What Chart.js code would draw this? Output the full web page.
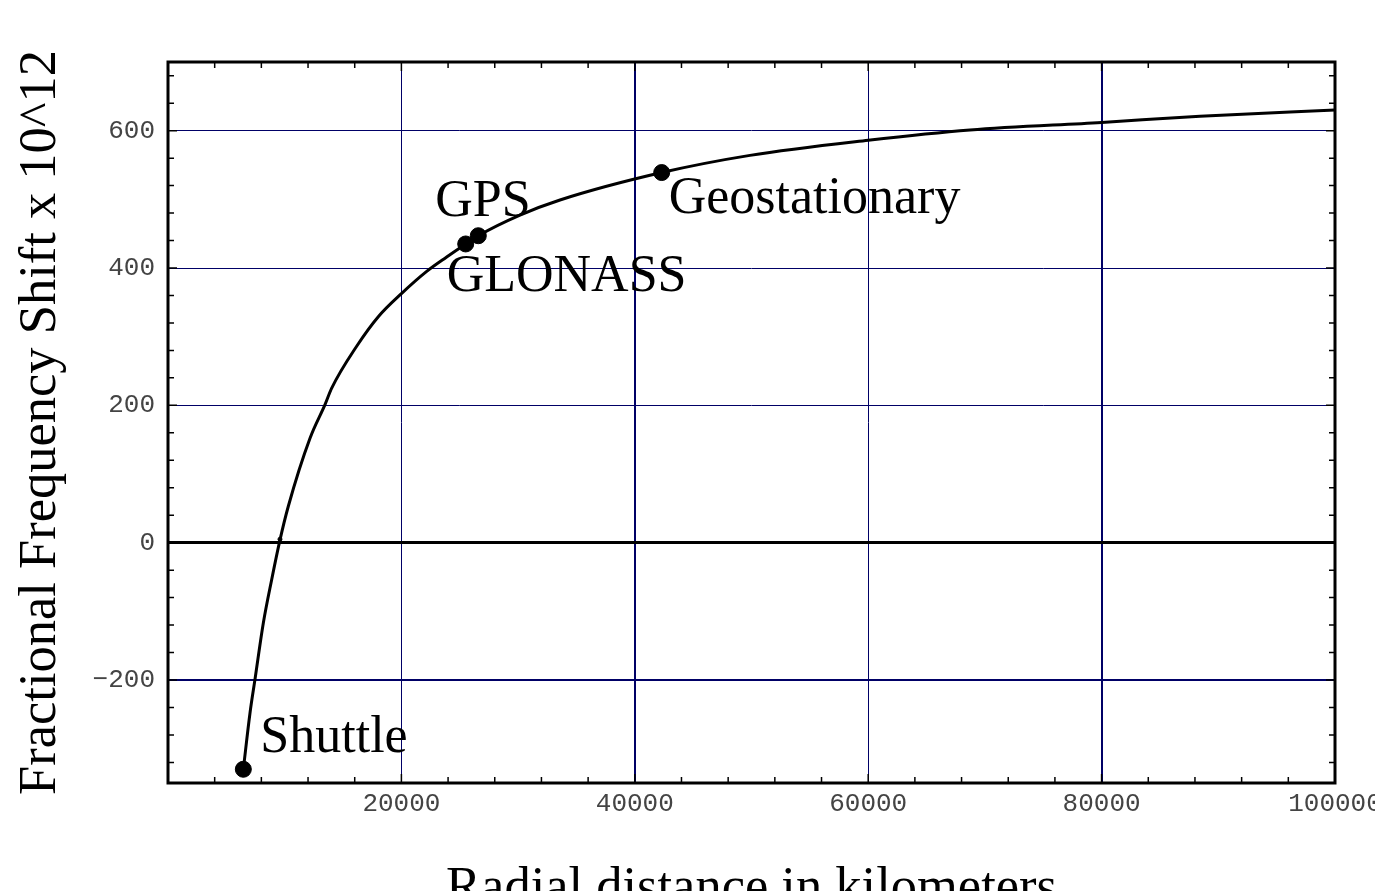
<!DOCTYPE html>
<html>
<head>
<meta charset="utf-8">
<title>Fractional Frequency Shift</title>
<script src="https://cdn.jsdelivr.net/npm/chart.js@4/dist/chart.umd.min.js"></script>
<style>
  html, body { margin: 0; padding: 0; background: #fff; }
  #wrap { width: 1375px; height: 891px; }
</style>
</head>
<body>
<div id="wrap"><canvas id="chart"></canvas></div>
<script>
// curve (km, shift x 1e12)
const curveX = [6455, 7027, 7455, 8169, 8883, 9597, 10310, 12168, 13453, 14027, 16167, 18020, 20025, 22167, 23880, 25510, 26590, 30163, 33590, 42305, 49871, 60000, 68723, 80000, 88432, 100000];
const curveY = [-330, -248, -199, -117, -54, 4, 53, 152, 201, 225, 286, 329, 363, 395, 416, 435, 447, 477, 499, 539, 564, 586, 601, 612, 621, 630];

// marked orbits
const orbitNames = ['Shuttle', 'GLONASS', 'GPS', 'Geostationary'];
const orbitX = [6455, 25510, 26590, 42305];
const orbitY = [-330, 435, 447, 539];

// small marker where the curve crosses zero
const crossX = [9597];
const crossY = [5];

const xTicks = [20000, 40000, 60000, 80000, 100000];
const yTicks = [-200, 0, 200, 400, 600];

const NAVY = '#000066';
const SERIF = '"Liberation Serif", "Times New Roman", serif';
const MONO = '"Liberation Mono", "Courier New", monospace';

// label placement relative to each marker, in pixels
const labelOffsets = {
  'Shuttle': [17, -17],
  'GLONASS': [-19, 47],
  'GPS': [-43, -20],
  'Geostationary': [7, 40]
};

const toPoints = (xs, ys) => xs.map((x, i) => ({x: x, y: ys[i]}));
const fmt = v => (v < 0 ? '\u2212' + Math.abs(v) : String(v));

// frame and inward ticks on all four sides
const framePlugin = {
  id: 'frame',
  afterDatasetsDraw(chart) {
    const {ctx, chartArea: a, scales: {x, y}} = chart;
    ctx.save();
    ctx.strokeStyle = '#000';
    ctx.lineWidth = 1.5;
    for (let v = 0; v <= 100000; v += 4000) {
      const px = x.getPixelForValue(v);
      const len = v % 20000 === 0 ? 9 : 6;
      ctx.beginPath();
      ctx.moveTo(px, a.bottom); ctx.lineTo(px, a.bottom - len);
      ctx.moveTo(px, a.top); ctx.lineTo(px, a.top + len);
      ctx.stroke();
    }
    for (let v = -320; v <= 680; v += 40) {
      const py = y.getPixelForValue(v);
      const len = v % 200 === 0 ? 9 : 6;
      ctx.beginPath();
      ctx.moveTo(a.left, py); ctx.lineTo(a.left + len, py);
      ctx.moveTo(a.right, py); ctx.lineTo(a.right - len, py);
      ctx.stroke();
    }
    ctx.lineWidth = 3;
    ctx.strokeRect(a.left, a.top, a.right - a.left, a.bottom - a.top);
    ctx.restore();
  }
};

// names next to the orbit markers
const orbitLabels = {
  id: 'orbitLabels',
  afterDatasetsDraw(chart) {
    const {ctx, scales: {x, y}} = chart;
    ctx.save();
    ctx.font = '52px ' + SERIF;
    ctx.fillStyle = '#000';
    ctx.textBaseline = 'alphabetic';
    ctx.textAlign = 'left';
    orbitNames.forEach((name, i) => {
      const off = labelOffsets[name];
      ctx.fillText(name, x.getPixelForValue(orbitX[i]) + off[0], y.getPixelForValue(orbitY[i]) + off[1]);
    });
    ctx.restore();
  }
};

new Chart(document.getElementById('chart'), {
  type: 'scatter',
  data: {
    datasets: [
      {
        type: 'line',
        data: toPoints(curveX, curveY),
        borderColor: '#000',
        borderWidth: 3,
        pointRadius: 0,
        cubicInterpolationMode: 'monotone',
        fill: false
      },
      {
        data: toPoints(orbitX, orbitY),
        backgroundColor: '#000',
        borderColor: '#000',
        pointRadius: 8
      },
      {
        data: toPoints(crossX, crossY),
        backgroundColor: '#000',
        borderColor: '#000',
        pointRadius: 2
      }
    ]
  },
  options: {
    responsive: true,
    maintainAspectRatio: false,
    animation: false,
    events: [],
    layout: { padding: { top: 62, right: 40, left: 0, bottom: 0 } },
    plugins: {
      legend: { display: false },
      tooltip: { enabled: false }
    },
    scales: {
      x: {
        type: 'linear',
        min: 0,
        max: 100000,
        afterBuildTicks: s => { s.ticks = xTicks.map(v => ({value: v})); },
        afterFit: s => { s.height = 108; s.paddingLeft = 0; s.paddingRight = 0; },
        ticks: {
          font: { family: MONO, size: 26 },
          color: '#444',
          padding: 6,
          maxRotation: 0,
          autoSkip: false,
          callback: fmt
        },
        grid: {
          drawTicks: false,
          color: NAVY,
          lineWidth: c => (c.tick && c.tick.value % 40000 === 0) ? 2 : 1
        },
        border: { display: false },
        title: {
          display: true,
          text: 'Radial distance in kilometers',
          font: { family: SERIF, size: 52.5, lineHeight: 1.2 },
          color: '#000',
          padding: { top: 0, bottom: -30 }
        }
      },
      y: {
        type: 'linear',
        min: -350,
        max: 700,
        afterBuildTicks: s => { s.ticks = yTicks.map(v => ({value: v})); },
        afterFit: s => { s.width = 168; s.paddingTop = 0; s.paddingBottom = 0; },
        ticks: {
          font: { family: MONO, size: 26 },
          color: '#444',
          padding: 13,
          callback: fmt
        },
        grid: {
          drawTicks: false,
          color: c => (c.tick && c.tick.value === 0) ? '#000' : NAVY,
          lineWidth: c => (c.tick && c.tick.value === 0) ? 3 : ((c.tick && c.tick.value === -200) ? 2 : 1)
        },
        border: { display: false },
        title: {
          display: true,
          text: 'Fractional Frequency Shift x 10^12',
          font: { family: SERIF, size: 52.5, lineHeight: 1.2 },
          color: '#000',
          padding: { top: 10, bottom: 0 }
        }
      }
    }
  },
  plugins: [framePlugin, orbitLabels]
});
</script>
</body>
</html>
